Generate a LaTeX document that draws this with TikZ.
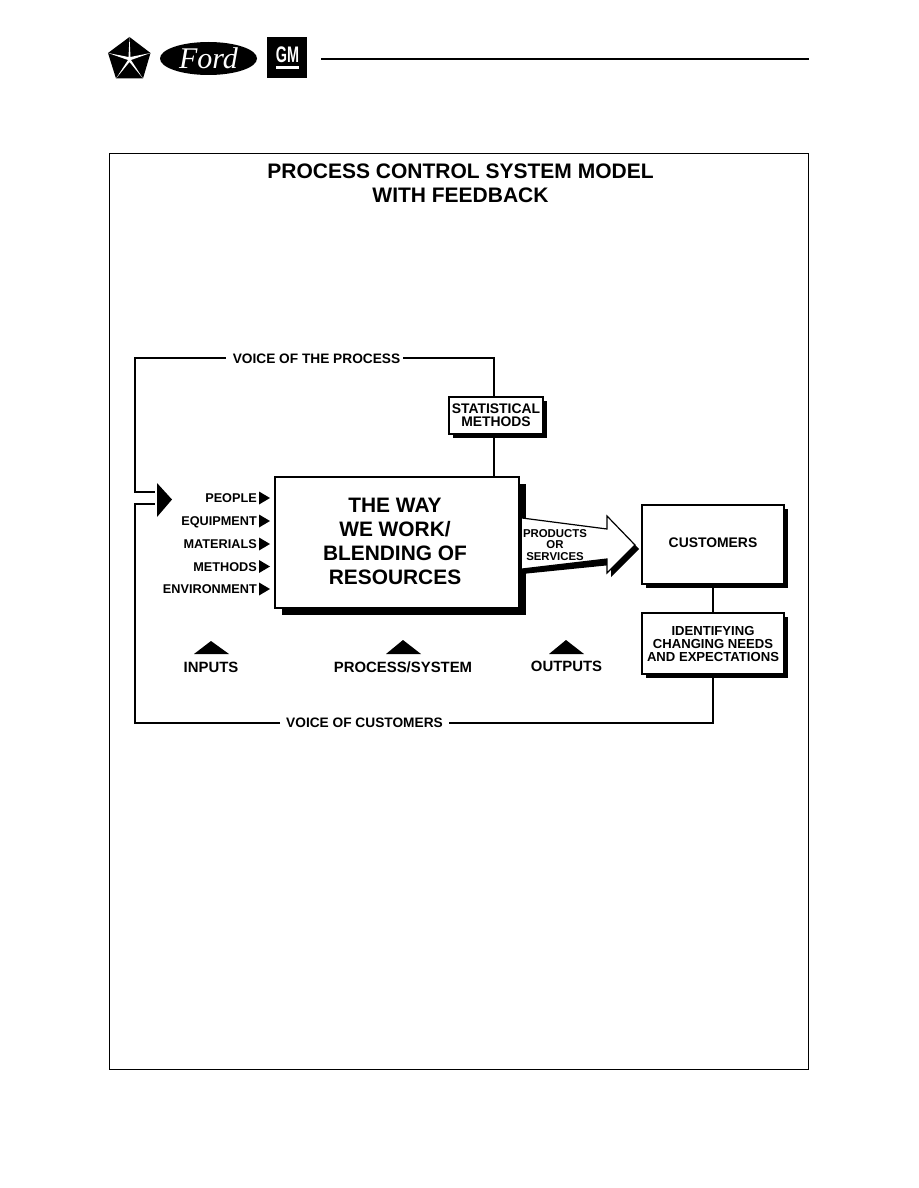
\documentclass[tikz,border=0pt]{standalone}
\usepackage{fontspec}
\setmainfont{Liberation Sans}[BoldFont={Liberation Sans Bold}]
\newfontfamily\fordfont{Liberation Serif}
\usetikzlibrary{shadows,shapes.geometric}
\tikzstyle{main-box}=[draw, line width=2.6pt, fill=white,
  drop shadow={shadow xshift=6.5pt, shadow yshift=-6.5pt, fill=black, opacity=1}]
\tikzstyle{small-box}=[draw, line width=2.2pt, fill=white, align=center, inner sep=0pt, font=\bfseries\fontsize{13.1}{13}\selectfont,
  drop shadow={shadow xshift=4pt, shadow yshift=-4pt, fill=black, opacity=1}]
\tikzstyle{bold-label}=[inner sep=0pt, align=center, font=\bfseries\fontsize{13.7}{13}\selectfont]
\tikzstyle{input-label}=[bold-label, anchor=east, text height=9pt, text depth=0pt, font=\bfseries\fontsize{12.7}{13}\selectfont]
\tikzstyle{stage-label}=[bold-label, font=\bfseries\fontsize{14.9}{16}\selectfont]
\tikzstyle{feedback-line}=[line width=2.3pt, line join=miter]
\begin{document}
\begin{tikzpicture}
  \useasboundingbox (0pt, 0pt) rectangle (918pt, -1188pt);
  % logos
  \fill (129.5pt, -37pt) -- (150.5pt, -53pt) -- (143pt, -78.5pt) -- (116pt, -78.5pt) -- (108pt, -53pt) -- cycle;
  \fill[white] (129.5pt, -37pt) -- (130.5pt, -57pt) -- (150.5pt, -53pt) -- (131pt, -60pt) -- (143pt, -78.5pt)
    -- (129.5pt, -62pt) -- (116pt, -78.5pt) -- (128pt, -60pt) -- (108pt, -53pt) -- (128.5pt, -57pt) -- cycle;
  \node (ford) at (208.5pt, -58.5pt) [ellipse, fill=black, minimum width=97pt, minimum height=33pt, inner sep=0pt,
    text=white, font=\fordfont\itshape\fontsize{30}{30}\selectfont] {Ford};
  \node (gm) at (287pt, -57.5pt) [fill=black, minimum width=40pt, minimum height=41pt, inner sep=0pt] {};
  \node (gmtext) at (287.5pt, -55pt) [inner sep=0pt, text=white, font=\bfseries\fontsize{18}{18}\selectfont] {\scalebox{.8}[1.25]{GM}};
  \fill[white] (276pt, -66pt) rectangle (299pt, -69.5pt);
  \draw[line width=2pt] (321pt, -59pt) -- (809pt, -59pt);
  % frame and title
  \node (frame) at (458.5pt, -611.3pt) [draw, line width=1pt, minimum width=699pt, minimum height=916.5pt] {};
  \node (title) at (460.5pt, -183.5pt) [bold-label, font=\bfseries\fontsize{21}{24.5}\selectfont] {PROCESS CONTROL SYSTEM MODEL\\WITH FEEDBACK};
  % boxes
  \node (work) at (397pt, -542.5pt) [main-box, minimum width=244pt, minimum height=131pt] {};
  \node (worktext) at (395pt, -541pt) [bold-label, font=\bfseries\fontsize{20.9}{24}\selectfont] {THE WAY\\WE WORK/\\BLENDING OF\\RESOURCES};
  \node (stats) at (496pt, -415.5pt) [small-box, minimum width=94pt, minimum height=37pt, font=\bfseries\fontsize{13.9}{13}\selectfont] {STATISTICAL\\METHODS};
  \node (customers) at (713pt, -544.5pt) [small-box, minimum width=142pt, minimum height=79pt, font=\bfseries\fontsize{13.9}{13}\selectfont] {\raisebox{4pt}{CUSTOMERS}};
  \node (needs) at (713pt, -643.5pt) [small-box, minimum width=142pt, minimum height=61pt] {IDENTIFYING\\CHANGING NEEDS\\AND EXPECTATIONS};
  % arrow to customers
  \fill (522pt, -568pt) -- (607pt, -558pt) -- (607pt, -573pt) -- (635pt, -545pt) -- (639pt, -549pt) -- (611pt, -577pt) -- (611pt, -565pt) -- (522pt, -574pt) -- cycle;
  \draw[line width=1.2pt, fill=white] (522pt, -518pt) -- (607pt, -529pt) -- (607pt, -516pt) -- (635pt, -545pt) -- (607pt, -573pt) -- (607pt, -559pt) -- (522pt, -569pt);
  \node (products) at (555pt, -545pt) [bold-label, font=\bfseries\fontsize{11.4}{11.5}\selectfont] {PRODUCTS\\OR\\SERVICES};
  % inputs
  \node (people) at (257pt, -498pt) [input-label] {PEOPLE};
  \node (equipment) at (257pt, -521pt) [input-label] {EQUIPMENT};
  \node (materials) at (257pt, -544pt) [input-label] {MATERIALS};
  \node (methods) at (257pt, -566.5pt) [input-label] {METHODS};
  \node (environment) at (257pt, -589pt) [input-label] {ENVIRONMENT};
  \fill (259pt, -491.5pt) -- (270pt, -498pt) -- (259pt, -504.5pt) -- cycle;
  \fill (259pt, -514.5pt) -- (270pt, -521pt) -- (259pt, -527.5pt) -- cycle;
  \fill (259pt, -537.5pt) -- (270pt, -544pt) -- (259pt, -550.5pt) -- cycle;
  \fill (259pt, -560pt) -- (270pt, -566.5pt) -- (259pt, -573pt) -- cycle;
  \fill (259pt, -582.5pt) -- (270pt, -589pt) -- (259pt, -595.5pt) -- cycle;
  \fill (157pt, -483pt) -- (172pt, -499.5pt) -- (157pt, -517pt) -- cycle;
  % stages
  \fill (194pt, -654pt) -- (211pt, -641pt) -- (229pt, -654pt) -- cycle;
  \fill (386pt, -654pt) -- (403pt, -640pt) -- (421pt, -654pt) -- cycle;
  \fill (549pt, -654pt) -- (566pt, -640pt) -- (584pt, -654pt) -- cycle;
  \node (inputs) at (211pt, -667pt) [stage-label] {INPUTS};
  \node (process) at (403pt, -667pt) [stage-label] {PROCESS/SYSTEM};
  \node (outputs) at (566.5pt, -666pt) [stage-label] {OUTPUTS};
  % feedback
  \node (vop) at (316.5pt, -358.5pt) [bold-label] {VOICE OF THE PROCESS};
  \node (voc) at (364.5pt, -722.5pt) [bold-label] {VOICE OF CUSTOMERS};
  \coordinate (in-top) at (155pt, -492pt);
  \coordinate (in-bottom) at (155pt, -504pt);
  \draw[feedback-line] ([xshift=-7pt, yshift=.5pt]vop.west) -- (135pt, -358pt) |- (in-top);
  \draw[feedback-line] ([xshift=3pt, yshift=.5pt]vop.east) -| ([xshift=-2pt]stats.north);
  \draw[feedback-line] ([xshift=-2pt]stats.south) -- (494pt, -476pt);
  \draw[feedback-line] (customers.south) -- (needs.north);
  \draw[feedback-line] (needs.south) |- ([xshift=6pt, yshift=-.5pt]voc.east);
  \draw[feedback-line] ([xshift=-6pt, yshift=-.5pt]voc.west) -- (135pt, -723pt) |- (in-bottom);
\end{tikzpicture}
\end{document}
